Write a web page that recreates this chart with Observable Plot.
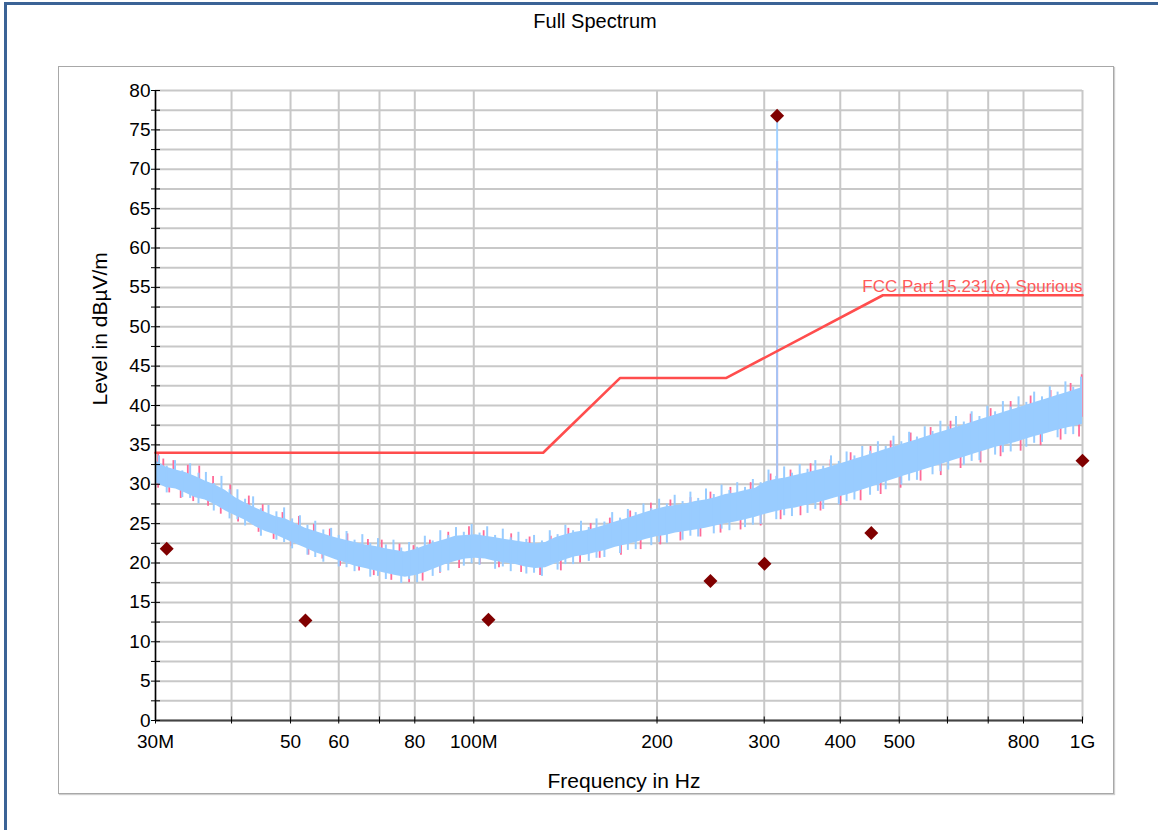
<!DOCTYPE html>
<html><head><meta charset="utf-8">
<script src="https://cdn.jsdelivr.net/npm/d3@7"></script>
<script src="https://cdn.jsdelivr.net/npm/@observablehq/plot@0.6"></script>
<style>
body{margin:0;background:#fff;font-family:"Liberation Sans",Arial,sans-serif;}
#wrap{position:relative;width:1158px;height:830px;overflow:hidden;background:#fff;}
#chart{position:absolute;left:0;top:0;}
.ov{position:absolute;pointer-events:none;box-sizing:border-box;}
#pageframe{left:4px;top:2px;width:1170px;height:840px;border-left:3px solid #3b6396;border-top:3px solid #3b6396;}
#frame{left:58px;top:66px;width:1056px;height:728px;border:1px solid #a8a8a8;box-shadow:1px 1px 1px #cfcfcf;}
#title{left:0;top:10px;width:1190px;text-align:center;font-size:20px;color:#000;}
</style></head>
<body>
<div id="wrap">
  <div id="chart"></div>
  <div class="ov" id="frame"></div>
  <div class="ov" id="pageframe"></div>
  <div class="ov" id="title">Full Spectrum</div>
</div>
<script>
// ---- data (frequencies in MHz, levels in dBµV/m) ----
// dense core of the measured trace (lower / upper edge)
const freqMHz = [30,31.2,32.4,33.6,34.9,36.2,37.6,39.1,40.6,42.2,43.8,45.5,47.2,49.1,51.0,52.9,55.0,57.1,59.3,61.6,63.9,66.4,69.0,71.6,74.4,77.2,80.2,83.3,86.5,89.9,93.3,96.9,100.7,104.5,108.6,112.7,117.1,121.6,126.3,131.2,136.2,141.5,146.9,152.6,158.5,164.6,170.9,177.5,184.4,191.5,198.9,206.5,214.5,222.8,231.3,240.3,249.5,259.2,269.1,279.5,290.3,301.5,313.1,325.2,337.7,350.8,364.3,378.3,392.9,408.1,423.8,440.1,457.1,474.7,493.0,512.0,531.8,552.3,573.6,595.7,618.7,642.5,667.3,693.1,719.8,747.5,776.4,806.3,837.4,869.7,903.2,938.0,974.2,1000];
const blueHi = [33.0,32.2,31.8,31.5,31.0,30.4,29.9,29.2,28.3,27.6,27.0,26.4,25.9,25.6,25.0,24.4,24.0,23.6,23.2,22.9,22.6,22.3,22.1,21.8,21.6,21.4,21.7,22.2,22.6,23.0,23.4,23.5,23.6,23.4,23.2,23.0,22.8,22.6,22.4,22.6,23.2,23.6,23.9,24.1,24.4,24.8,25.2,25.6,26.0,26.4,26.8,27.1,27.3,27.5,27.8,28.0,28.3,28.7,28.9,29.2,29.5,30.3,30.6,30.8,31.1,31.4,31.7,32.0,32.4,32.8,33.2,33.6,34.0,34.4,34.8,35.2,35.6,36.0,36.4,36.8,37.2,37.6,38.0,38.4,38.8,39.2,39.6,40.0,40.4,40.8,41.2,41.6,42.0,42.3];
const blueLo = [30.2,29.6,29.4,28.9,28.3,28.0,27.4,26.6,26.0,25.4,24.6,24.0,23.6,23.0,22.4,21.9,21.3,20.9,20.4,20.0,19.6,19.3,19.0,18.7,18.4,18.2,18.4,18.8,19.3,19.8,20.2,20.5,20.6,20.5,20.2,20.0,19.8,19.5,19.3,19.4,19.9,20.4,20.8,21.0,21.3,21.6,22.0,22.3,22.6,23.0,23.3,23.5,23.8,24.0,24.2,24.4,24.7,25.0,25.2,25.5,25.8,26.2,26.5,26.8,27.0,27.3,27.6,27.9,28.3,28.6,29.0,29.4,29.8,30.3,30.7,31.1,31.5,31.9,32.3,32.7,33.1,33.5,33.9,34.3,34.7,35.0,35.3,35.7,36.1,36.4,36.8,37.1,37.4,37.6];

// noise spikes of the blue trace (lower / upper end of each spike)
const blueSpikeF  = [30.4,31.3,32.3,33.2,34.2,35.3,36.3,37.4,38.5,39.7,40.9,42.1,43.4,44.7,46.0,47.4,48.8,50.3,51.8,53.3,54.9,56.6,58.3,60.0,61.8,63.7,65.6,67.6,69.6,71.7,73.8,76.0,78.3,80.7,83.1,85.6,88.1,90.8,93.5,96.3,99.2,102.2,105.2,108.4,111.6,115.0,118.4,122.0,125.6,129.4,133.3,137.3,141.4,145.6,150.0,154.5,159.1,163.9,168.8,173.9,179.1,184.5,190.0,195.7,201.6,207.6,213.8,220.3,226.9,233.7,240.7,247.9,255.3,263.0,270.9,279.0,287.4,296.0,304.9,314.0,323.5,333.2,343.1,353.4,364.0,375.0,386.2,397.8,409.7,422.0,434.7,447.7,461.2,475.0,489.2,503.9,519.0,534.6,550.6,567.1,584.2,601.7,619.7,638.3,657.5,677.2,697.5,718.5,740.0,762.2,785.1,808.6,832.9,857.9,883.6,910.1,937.4,965.5,994.5];
const blueSpikeLo = [30.3,28.9,29.7,28.3,28.2,27.5,28.2,26.6,27.3,25.6,25.5,24.7,25.1,23.4,24.1,22.9,22.6,21.8,22.4,21.0,20.7,20.1,20.8,19.5,19.4,18.9,19.6,18.2,18.3,17.9,18.7,17.4,17.9,17.5,19.1,18.3,18.8,19.0,20.5,19.6,19.9,19.7,20.7,19.2,19.5,18.9,20.0,18.6,18.7,18.3,19.9,19.1,19.8,19.8,21.2,20.2,20.6,20.7,22.2,21.2,21.6,21.7,23.2,22.2,22.6,22.5,24.1,22.9,23.4,23.3,24.7,23.7,24.3,24.1,25.5,24.5,24.8,24.9,26.6,25.5,26.0,25.9,27.4,26.3,26.8,26.8,28.4,27.4,27.8,28.0,29.6,28.6,29.1,29.3,30.9,29.9,30.4,30.5,32.2,31.2,31.6,31.8,33.4,32.4,32.9,33.0,34.7,33.7,34.0,34.1,35.7,34.7,35.2,35.3,36.9,35.9,36.3,36.3,37.8];
const blueSpikeHi = [33.6,32.3,33.0,31.7,32.6,31.4,31.5,30.1,31.0,29.3,29.3,28.1,28.4,26.9,27.3,26.5,27.0,25.6,26.0,24.8,25.3,24.2,24.4,23.5,24.0,22.9,23.6,22.5,23.1,22.3,22.9,21.9,22.6,22.0,23.4,22.8,24.1,23.5,24.5,23.9,24.9,23.8,24.6,23.5,24.3,23.2,23.9,23.0,23.5,22.8,24.1,23.6,24.8,24.1,25.3,24.5,25.6,25.2,26.4,25.7,26.8,26.4,27.5,26.9,28.1,27.5,28.6,27.8,29.0,28.2,29.4,28.7,29.9,29.2,30.2,29.6,30.6,30.2,31.8,31.0,32.2,31.4,32.5,31.9,33.0,32.3,33.6,32.9,34.1,33.6,34.8,34.2,35.4,34.8,36.1,35.4,36.6,36.0,37.3,36.7,38.0,37.3,38.6,37.9,39.2,38.6,39.9,39.2,40.5,39.8,41.1,40.4,41.7,41.1,42.4,41.7,43.0,42.3,43.6];

// noise spikes of the pink (peak) trace
const pinkF  = [30.3,30.9,31.6,32.1,33.0,33.9,34.6,35.4,36.6,37.3,38.4,39.8,41.0,42.7,44.3,45.0,46.9,48.5,50.2,51.6,53.5,54.6,56.4,58.0,60.3,62.0,64.8,67.0,68.5,70.6,73.2,75.5,78.3,79.6,82.4,84.7,88.0,90.8,94.6,98.2,102.3,103.8,110.0,115.2,119.6,123.5,128.5,133.8,139.0,143.0,149.5,155.6,161.0,167.3,174.5,180.7,188.0,195.4,202.5,210.4,218.5,227.0,235.7,244.8,254.3,264.0,274.3,285.0,296.0,307.3,319.2,331.4,344.1,357.5,371.2,385.6,400.4,416.0,432.0,448.5,466.0,484.0,502.5,522.0,542.0,563.0,585.0,607.0,630.5,655.0,680.0,706.5,733.5,762.0,791.3,821.8,853.5,886.3,920.5,956.0,987.0,997.0];
const pinkLo = [29.5,30.8,28.9,30.3,28.2,29.5,27.8,29.2,27.2,28.5,26.2,27.0,25.2,26.0,23.9,25.0,23.0,24.3,22.1,23.5,21.0,22.3,20.5,21.8,19.6,21.0,19.0,20.5,18.4,20.0,17.8,19.5,17.5,19.6,17.7,20.0,18.7,21.0,19.3,21.9,19.8,21.8,19.4,21.0,18.8,20.7,18.4,20.8,19.0,21.8,20.0,22.3,20.6,23.0,21.0,23.7,21.7,24.5,22.3,25.0,22.8,25.4,23.3,26.0,23.8,26.5,24.2,27.0,24.7,28.0,25.5,28.6,26.0,29.3,26.6,29.9,27.3,30.8,27.9,31.4,28.7,32.3,29.5,33.0,30.4,33.8,31.1,34.6,32.0,35.4,32.7,36.1,33.5,36.8,34.2,37.7,34.9,38.4,35.6,39.0,36.0,38.5];
const pinkHi = [33.9,33.2,30.5,33.0,30.0,32.4,29.6,32.3,29.0,31.0,28.0,29.9,27.0,28.5,25.8,27.4,24.8,26.4,23.8,25.9,23.0,24.9,22.2,24.3,21.5,23.7,20.8,23.0,20.5,22.9,19.8,22.4,19.6,22.2,19.8,22.9,20.6,23.9,21.3,24.6,21.9,24.1,21.5,23.7,21.0,23.3,20.6,23.4,21.3,24.4,22.4,25.0,23.0,25.7,23.5,26.6,24.3,27.6,25.0,28.0,25.4,28.3,26.0,29.0,26.5,29.6,27.0,30.2,27.6,31.3,28.4,31.8,28.8,32.6,29.4,33.1,30.2,34.0,30.9,34.8,31.7,35.5,32.5,36.5,33.3,37.2,34.0,38.0,35.0,38.9,35.8,39.6,36.6,40.5,37.4,41.2,38.2,41.9,38.9,42.8,39.3,43.9];

const carrierF = [315];
const carrierBase = [30.5];
const carrierBlue = [76.8];
const carrierPink = [71];

const limitF  = [30,130,174,260,470,1000];
const limitDb = [34,34,43.5,43.5,54,54];
const limitName = "FCC Part 15.231(e) Spurious";

const markerF  = [31.3,52.9,105.7,244.8,300.3,315,449.8,1000];
const markerDb = [21.8,12.7,12.8,17.7,19.9,76.8,23.8,33.0];

const yMajor = [0,5,10,15,20,25,30,35,40,45,50,55,60,65,70,75,80];
const yGrid  = [0,2.5,5,7.5,10,12.5,15,17.5,20,22.5,25,27.5,30,32.5,35,37.5,40,42.5,45,47.5,50,52.5,55,57.5,60,62.5,65,67.5,70,72.5,75,77.5,80];
const xGrid  = [30,40,50,60,70,80,100,200,300,400,500,600,700,800,1000];
const xLabels = [30,50,60,80,100,200,300,400,500,800,1000];
const xLabelText = ["30M","50","60","80","100M","200","300","400","500","800","1G"];
const xTitle = "Frequency in Hz";
const yTitle = "Level in dBµV/m";

// ---- chart ----
const idx = d3.range(freqMHz.length);
const bIdx = d3.range(blueSpikeF.length);
const pIdx = d3.range(pinkF.length);
const lIdx = d3.range(limitF.length);
const mIdx = d3.range(markerF.length);
const cIdx = d3.range(carrierF.length);
const FONT = "'Liberation Sans', Arial, sans-serif";
const BLUE = "#99ccff", PINK = "#ff6b98";

const plot = Plot.plot({
  width: 1158, height: 830,
  marginLeft: 155, marginRight: 76, marginTop: 90, marginBottom: 110,
  style: {fontFamily: FONT, background: "transparent", color: "#000"},
  x: {type: "log", domain: [30, 1000]},
  y: {domain: [0, 80]},
  marks: [
    Plot.gridY({ticks: yGrid, stroke: "#c8c8c8", strokeWidth: 2, strokeOpacity: 1}),
    Plot.gridX({ticks: xGrid, stroke: "#c8c8c8", strokeWidth: 2, strokeOpacity: 1}),
    Plot.ruleX(pIdx, {x: i => pinkF[i], y1: i => pinkLo[i], y2: i => pinkHi[i], stroke: PINK, strokeWidth: 1.8}),
    Plot.ruleX(cIdx, {x: i => carrierF[i], y1: i => carrierBase[i], y2: i => carrierPink[i], stroke: "#ff86ae", strokeWidth: 2}),
    Plot.areaY(idx, {x: i => freqMHz[i], y1: i => blueLo[i], y2: i => blueHi[i], fill: BLUE, fillOpacity: 1}),
    Plot.ruleX(bIdx, {x: i => blueSpikeF[i], y1: i => blueSpikeLo[i], y2: i => blueSpikeHi[i], stroke: BLUE, strokeWidth: 2}),
    Plot.ruleX(cIdx, {x: i => carrierF[i], y1: i => carrierBase[i], y2: i => carrierBlue[i], stroke: BLUE, strokeWidth: 2, strokeOpacity: 0.9}),
    Plot.line(lIdx, {x: i => limitF[i], y: i => limitDb[i], stroke: "#ff4d4d", strokeWidth: 2.6}),
    Plot.text([limitName], {x: limitF[limitF.length - 1], y: limitDb[limitDb.length - 1], text: d => d, textAnchor: "end", dy: -9, fill: "#ff5a5a", fontSize: 17}),
    Plot.dot(mIdx, {x: i => markerF[i], y: i => markerDb[i], symbol: "diamond2", r: 6.3, fill: "#800000", stroke: "none"}),
    Plot.ruleX([30], {stroke: "#000", strokeWidth: 1.5}),
    Plot.ruleY([0], {stroke: "#444", strokeWidth: 2}),
    Plot.axisY({ticks: yGrid, text: null, tickSize: 9, dx: 5, stroke: "#000", label: null}),
    Plot.axisY({ticks: yMajor, tickSize: 0, tickPadding: 5, fontSize: 19, label: null, fill: "#000"}),
    Plot.axisX({ticks: xGrid, text: null, tickSize: 7, dy: -3.5, stroke: "#000", label: null}),
    Plot.text(xLabels, {x: d => d, frameAnchor: "bottom", text: (d, i) => xLabelText[i], dy: 27, fontSize: 19, fill: "#000"}),
    Plot.text([xTitle], {frameAnchor: "bottom", text: d => d, dy: 67, dx: 5, fontSize: 21, fill: "#000"}),
    Plot.text([yTitle], {frameAnchor: "left", text: d => d, rotate: -90, dx: -55, fontSize: 21, fill: "#000"})
  ]
});
document.getElementById("chart").appendChild(plot);
</script>
</body></html>
